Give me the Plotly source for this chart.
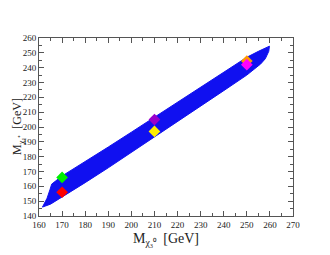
import plotly.graph_objects as go

# band boundary (upper edge then lower edge reversed)
band_x = [161.5, 163.5, 164.8, 165.5, 170, 180, 190, 200, 210, 220, 230, 240, 250, 255, 258.5, 259.8,
          259.5, 258, 256, 253, 250, 240, 230, 220, 210, 200, 190, 180, 170, 165, 161.5]
band_y = [146, 152, 158, 161.5, 167, 176.5, 186.5, 196.5, 206.5, 216.5, 226.5, 236.5, 247, 251, 253.5, 254.5,
          251, 246, 242.5, 238.5, 235, 224.5, 214, 203.5, 193, 182.5, 172.5, 162.5, 152.5, 148, 146]

pt_x = [170, 170, 210, 210, 250, 250]
pt_y = [166, 156, 205, 197, 244.5, 242]
pt_colors = ["#00ee00", "#ff0000", "#9900cc", "#ffee00", "#ff9900", "#ff00ff"]

x_title = "M<sub>χ₃⁰</sub>  [GeV]"
y_title = "M<sub>χ₁⁺</sub>  [GeV]"

fig = go.Figure()
fig.add_trace(go.Scatter(x=band_x, y=band_y, mode="lines", fill="toself",
                         fillcolor="#1010f0", line=dict(color="#1010f0", width=1),
                         hoverinfo="skip", showlegend=False))
fig.add_trace(go.Scatter(x=pt_x, y=pt_y, mode="markers",
                         marker=dict(symbol="diamond", size=9, color=pt_colors, line=dict(width=0)),
                         showlegend=False))

axis_common = dict(showgrid=False, zeroline=False, showline=True, linecolor="#555", linewidth=1,
                   mirror="ticks", ticks="inside", ticklen=5, tickcolor="#555", dtick=10,
                   tickfont=dict(family="Liberation Serif", size=9, color="#222"),
                   minor=dict(ticks="inside", ticklen=3, dtick=5, tickcolor="#555"))

fig.update_xaxes(range=[160, 270], tick0=160, **axis_common)
fig.update_yaxes(range=[140, 260], tick0=140, **axis_common)

fig.add_annotation(text=x_title, xref="paper", yref="paper", x=0.5, y=0, xanchor="center",
                   yanchor="top", yshift=-13, showarrow=False,
                   font=dict(family="Liberation Serif", size=14, color="#222"))
fig.add_annotation(text=y_title, xref="paper", yref="paper", x=0, y=0.5, xanchor="left",
                   yanchor="middle", xshift=-31, textangle=-90, showarrow=False,
                   font=dict(family="Liberation Serif", size=12, color="#222"))

fig.update_layout(width=330, height=255, margin=dict(l=31, r=45, t=30, b=47, autoexpand=False),
                  plot_bgcolor="white", paper_bgcolor="white")
fig.write_html("out.html")
